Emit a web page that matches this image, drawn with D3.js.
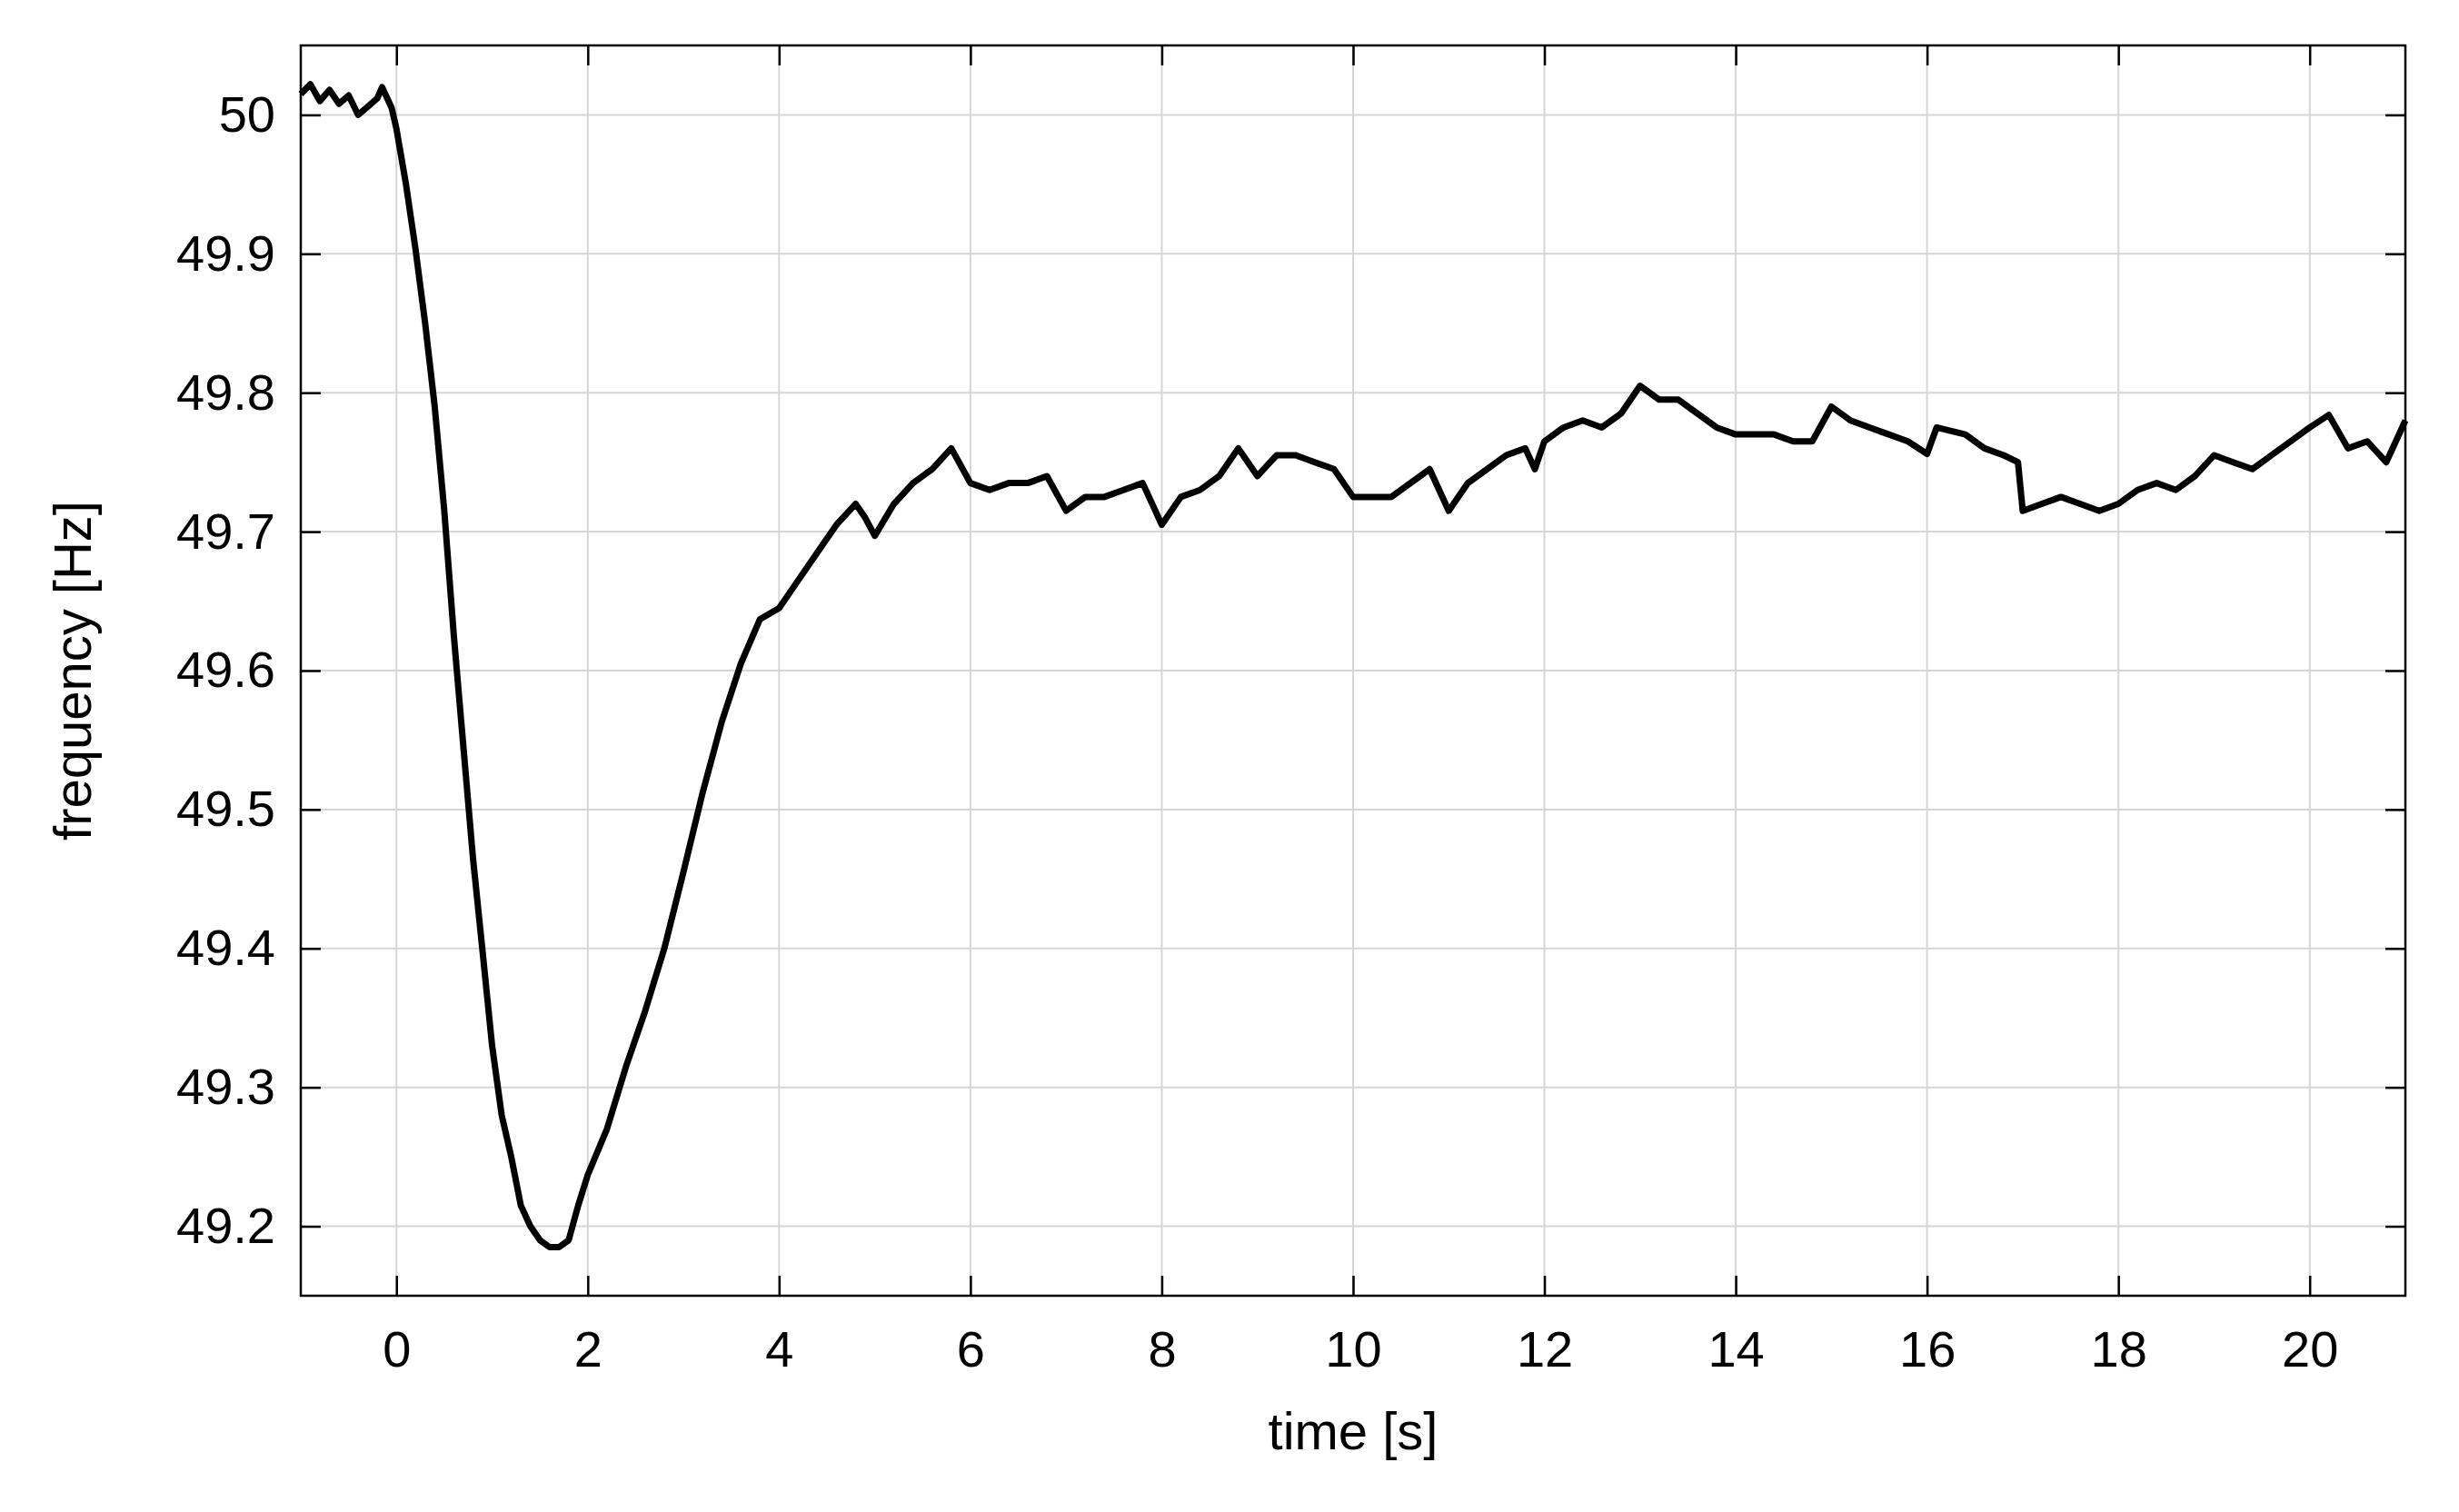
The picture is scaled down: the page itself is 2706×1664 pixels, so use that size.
<!DOCTYPE html>
<html><head><meta charset="utf-8">
<script src="https://cdn.jsdelivr.net/npm/d3@7"></script>
<style>body{margin:0;background:#fff}svg{display:block}text{font-family:"Liberation Sans",Arial,sans-serif;fill:#000}</style>
</head><body>
<script>
const times = [-1,-0.9,-0.8,-0.7,-0.6,-0.5,-0.4,-0.3,-0.2,-0.15,-0.05,0,0.1,0.2,0.3,0.4,0.5,0.6,0.7,0.8,0.9,1.0,1.1,1.2,1.3,1.4,1.5,1.6,1.7,1.8,1.9,2.0,2.2,2.4,2.6,2.8,3.0,3.2,3.4,3.6,3.8,4.0,4.2,4.4,4.6,4.8,4.9,5.0,5.2,5.4,5.6,5.8,6.0,6.2,6.4,6.6,6.8,7.0,7.2,7.4,7.6,7.8,8.0,8.2,8.4,8.6,8.8,9.0,9.2,9.4,9.6,9.8,10.0,10.2,10.4,10.6,10.8,11.0,11.2,11.4,11.6,11.8,11.9,12.0,12.2,12.4,12.6,12.8,13.0,13.2,13.4,13.6,13.8,14.0,14.2,14.4,14.6,14.8,15.0,15.2,15.4,15.6,15.8,16.0,16.1,16.4,16.6,16.8,16.95,17.0,17.2,17.4,17.6,17.8,18.0,18.2,18.4,18.6,18.8,19.0,19.2,19.4,19.6,19.8,20.0,20.2,20.4,20.6,20.8,21.0];
const freq = [50.015,50.022,50.01,50.018,50.008,50.014,50.0,50.006,50.012,50.02,50.005,49.99,49.95,49.903,49.85,49.79,49.715,49.625,49.545,49.465,49.398,49.33,49.28,49.25,49.215,49.2,49.19,49.185,49.185,49.19,49.215,49.237,49.27,49.315,49.355,49.4,49.455,49.512,49.563,49.605,49.637,49.645,49.665,49.685,49.705,49.72,49.71,49.697,49.72,49.735,49.745,49.76,49.735,49.73,49.735,49.735,49.74,49.715,49.725,49.725,49.73,49.735,49.705,49.725,49.73,49.74,49.76,49.74,49.755,49.755,49.75,49.745,49.725,49.725,49.725,49.735,49.745,49.715,49.735,49.745,49.755,49.76,49.745,49.765,49.775,49.78,49.775,49.785,49.805,49.795,49.795,49.785,49.775,49.77,49.77,49.77,49.765,49.765,49.79,49.78,49.775,49.77,49.765,49.756,49.775,49.77,49.76,49.755,49.75,49.715,49.72,49.725,49.72,49.715,49.72,49.73,49.735,49.73,49.74,49.755,49.75,49.745,49.755,49.765,49.775,49.784,49.76,49.765,49.75,49.78];
const xTicks = [0,2,4,6,8,10,12,14,16,18,20];
const yTicks = [49.2,49.3,49.4,49.5,49.6,49.7,49.8,49.9,50];

const W=2706,H=1664, L=331,R=2647,T=50,B=1426;
const svg=d3.select("body").append("svg").attr("width",W).attr("height",H);
const x=d3.scaleLinear().domain([-1,21]).range([L,R]);
const y=d3.scaleLinear().domain([49.15,50.05]).range([B,T]);
const g=svg.append("g");
g.selectAll(".gx").data(xTicks).join("line").attr("x1",d=>x(d)).attr("x2",d=>x(d)).attr("y1",T).attr("y2",B).attr("stroke","#d6d6d6").attr("stroke-width",2);
g.selectAll(".gy").data(yTicks).join("line").attr("y1",d=>y(d)).attr("y2",d=>y(d)).attr("x1",L).attr("x2",R).attr("stroke","#d6d6d6").attr("stroke-width",2);
const tl=-22;
svg.append("g").attr("transform",`translate(0,${B})`).call(d3.axisBottom(x).tickValues(xTicks).tickSizeInner(tl).tickSizeOuter(0).tickPadding(38));
svg.append("g").attr("transform",`translate(0,${T})`).call(d3.axisTop(x).tickValues(xTicks).tickSizeInner(tl).tickSizeOuter(0).tickFormat(""));
svg.append("g").attr("transform",`translate(${L},0)`).call(d3.axisLeft(y).tickValues(yTicks).tickSizeInner(tl).tickSizeOuter(0).tickPadding(28).tickFormat(d=>d3.format("")(d)));
svg.append("g").attr("transform",`translate(${R},0)`).call(d3.axisRight(y).tickValues(yTicks).tickSizeInner(tl).tickSizeOuter(0).tickFormat(""));
svg.selectAll(".tick line").attr("stroke","#000").attr("stroke-width",2.5);
svg.selectAll(".domain").remove();
svg.selectAll(".tick text").attr("font-size",56).attr("font-family","Liberation Sans, Arial, sans-serif");
svg.append("rect").attr("x",L).attr("y",T).attr("width",R-L).attr("height",B-T).attr("fill","none").attr("stroke","#000").attr("stroke-width",2.5);
const pts=times.map((t,i)=>[t,freq[i]]);
svg.append("path").datum(pts).attr("fill","none").attr("stroke","#000").attr("stroke-width",7).attr("stroke-linejoin","round")
  .attr("d",d3.line().x(d=>x(d[0])).y(d=>y(d[1])));
svg.append("text").attr("x",(L+R)/2).attr("y",1595).attr("text-anchor","middle").attr("font-size",58).text("time [s]");
svg.append("text").attr("transform",`translate(100,${(T+B)/2}) rotate(-90)`).attr("text-anchor","middle").attr("font-size",58).text("frequency [Hz]");
</script>
</body></html>
